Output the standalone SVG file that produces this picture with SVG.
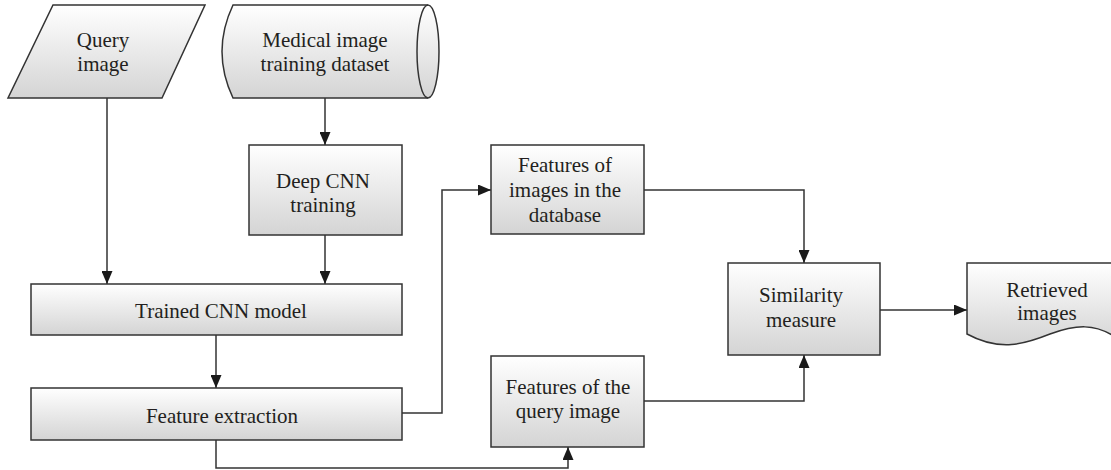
<svg xmlns="http://www.w3.org/2000/svg" width="1111" height="470" viewBox="0 0 1111 470">
<defs>
<linearGradient id="g" x1="0" y1="0" x2="0" y2="1">
<stop offset="0" stop-color="#ffffff"/>
<stop offset="1" stop-color="#d4d4d4"/>
</linearGradient>
<marker id="ah" viewBox="0 0 13 11" refX="13" refY="5.5" markerWidth="13" markerHeight="11" markerUnits="userSpaceOnUse" orient="auto">
<path d="M0,0 L13,5.5 L0,11 Z" fill="#1a1a1a"/>
</marker>
</defs>
<style>
.n{fill:url(#g);stroke:#333;stroke-width:1.5}
.c{fill:none;stroke:#333;stroke-width:1.5;marker-end:url(#ah)}
.t{font-family:'Liberation Serif','DejaVu Serif',serif;font-size:21px;fill:#231f20;text-anchor:middle}
</style>
<rect width="1111" height="470" fill="#fff"/>
<g id="connectors">
<path class="c" d="M107,98 V284"/>
<path class="c" d="M325,98 V145"/>
<path class="c" d="M325,235 V284"/>
<path class="c" d="M216,335 V388"/>
<path class="c" d="M402,413 H442 V190 H491"/>
<path class="c" d="M216,440 V468 H568 V447"/>
<path class="c" d="M644,190 H804 V263"/>
<path class="c" d="M644,401 H804 V355"/>
<path class="c" d="M880,310 H967"/>
</g>
<g class="t" font-family="Liberation Serif, DejaVu Serif, serif">
<g id="query-image">
<path class="n" d="M53,5 H205 L162,98 H8 Z"/>
<text x="103" y="47">Query</text>
<text x="103" y="71">image</text>
</g>
<g id="training-dataset">
<path class="n" d="M233,5 H428 A11,46.5 0 0 1 428,98 H233 Q211,51.5 233,5 Z"/>
<path d="M428,5 A11,46.5 0 0 0 428,98" fill="none" stroke="#333" stroke-width="1.5"/>
<text x="325" y="47">Medical image</text>
<text x="325" y="71">training dataset</text>
</g>
<g id="deep-cnn-training">
<rect class="n" x="249" y="145" width="153" height="90"/>
<text x="323" y="188">Deep CNN</text>
<text x="323" y="212">training</text>
</g>
<g id="trained-cnn-model">
<rect class="n" x="31" y="284" width="371" height="51"/>
<text x="221" y="318">Trained CNN model</text>
</g>
<g id="feature-extraction">
<rect class="n" x="31" y="388" width="371" height="52"/>
<text x="222" y="423">Feature extraction</text>
</g>
<g id="features-database">
<rect class="n" x="491" y="145" width="153" height="89"/>
<text x="565" y="172">Features of</text>
<text x="565" y="197">images in the</text>
<text x="565" y="222">database</text>
</g>
<g id="features-query">
<rect class="n" x="491" y="356" width="153" height="91"/>
<text x="568" y="394">Features of the</text>
<text x="568" y="418">query image</text>
</g>
<g id="similarity-measure">
<rect class="n" x="728" y="263" width="152" height="92"/>
<text x="801" y="302">Similarity</text>
<text x="801" y="327">measure</text>
</g>
<g id="retrieved-images">
<path class="n" d="M967,263 H1120 V340 C1095,322 1075,325 1050,334 C1025,344 1000,352 967,334 Z"/>
<text x="1047" y="297">Retrieved</text>
<text x="1047" y="320">images</text>
</g>
</g>
</svg>
